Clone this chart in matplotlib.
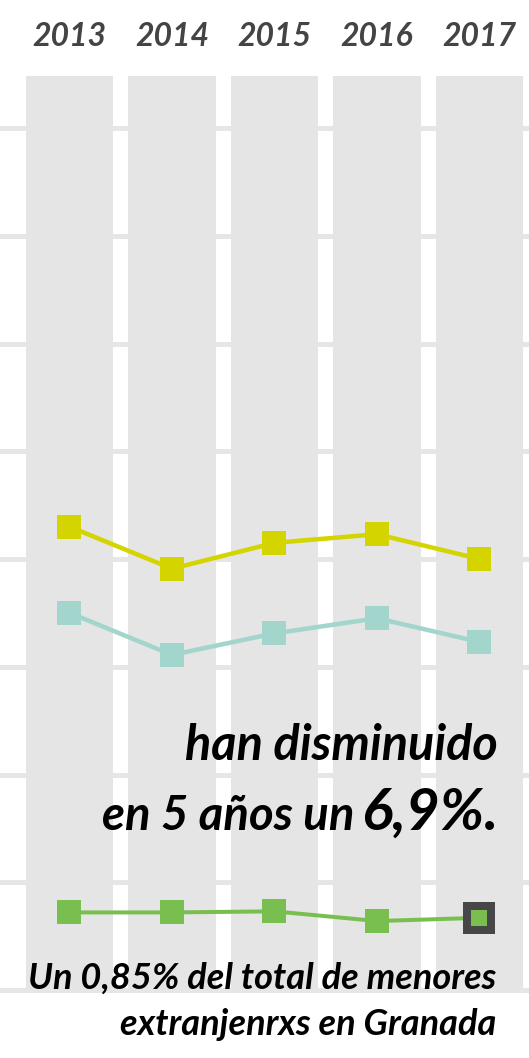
import numpy as np
import matplotlib.pyplot as plt

years = ["2013", "2014", "2015", "2016", "2017"]
yellow = [4.30, 3.91, 4.15, 4.23, 4.00]
teal = [3.50, 3.11, 3.31, 3.45, 3.23]
green = [0.72, 0.72, 0.73, 0.64, 0.67]
col_top = 8.48
grid_vals = np.arange(0, 9)

fig = plt.figure(figsize=(5.29, 10.58), dpi=100)
ax = fig.add_axes([0, 0, 1, 1])
ax.set_xlim(-0.678, 4.483)
ax.set_ylim(-0.631, 9.188)
ax.axis("off")

x = np.arange(len(years))
px = 72 / 100  # points per pixel

for g in grid_vals:
    ax.axhline(g, color="#e6e6e6", lw=5 * px, zorder=0)

ax.bar(x, [col_top] * len(x), width=0.849, bottom=0, color="#e5e5e5", zorder=1)

ax.plot(x, yellow, color="#d4d400", lw=4.5 * px, marker="s", ms=24 * px, mew=0, zorder=3)
ax.plot(x, teal, color="#a2d5cc", lw=4.5 * px, marker="s", ms=24 * px, mew=0, zorder=3)
ax.plot(x, green, color="#79bf4f", lw=4 * px, marker="s", ms=24 * px, mew=0, zorder=3)
ax.plot(x[-1:], green[-1:], ls="none", marker="s", ms=24 * px, mfc="#79bf4f",
        mec="#474747", mew=8 * px, zorder=4)

fam = ["Lato", "DejaVu Sans"]
for xi, yr in zip(x, years):
    ax.text(xi, 8.85, yr, ha="center", va="center", fontsize=23, color="#444444",
            fontweight="bold", fontstyle="italic", family=fam)

fig.text(498 / 529, 1 - 760 / 1058, "han disminuido", ha="right", va="baseline",
         fontsize=35, fontweight="bold", fontstyle="italic", family=fam, color="black")
t1 = fig.text(498 / 529, 1 - 830 / 1058, "6,9%.", ha="right", va="baseline",
              fontsize=42, fontweight="bold", fontstyle="italic", family=fam, color="black")
fig.canvas.draw()
bb = t1.get_window_extent()
fig.text((bb.x0 - 6) / 529, 1 - 830 / 1058, "en 5 años un", ha="right", va="baseline",
         fontsize=34, fontweight="bold", fontstyle="italic", family=fam, color="black")

fig.text(496 / 529, 1 - 989 / 1058, "Un 0,85% del total de menores", ha="right",
         va="baseline", fontsize=26, fontweight="bold", fontstyle="italic", family=fam,
         color="black")
fig.text(496 / 529, 1 - 1035 / 1058, "extranjenrxs en Granada", ha="right",
         va="baseline", fontsize=26, fontweight="bold", fontstyle="italic", family=fam,
         color="black")

fig.savefig("out.png", dpi=100)
